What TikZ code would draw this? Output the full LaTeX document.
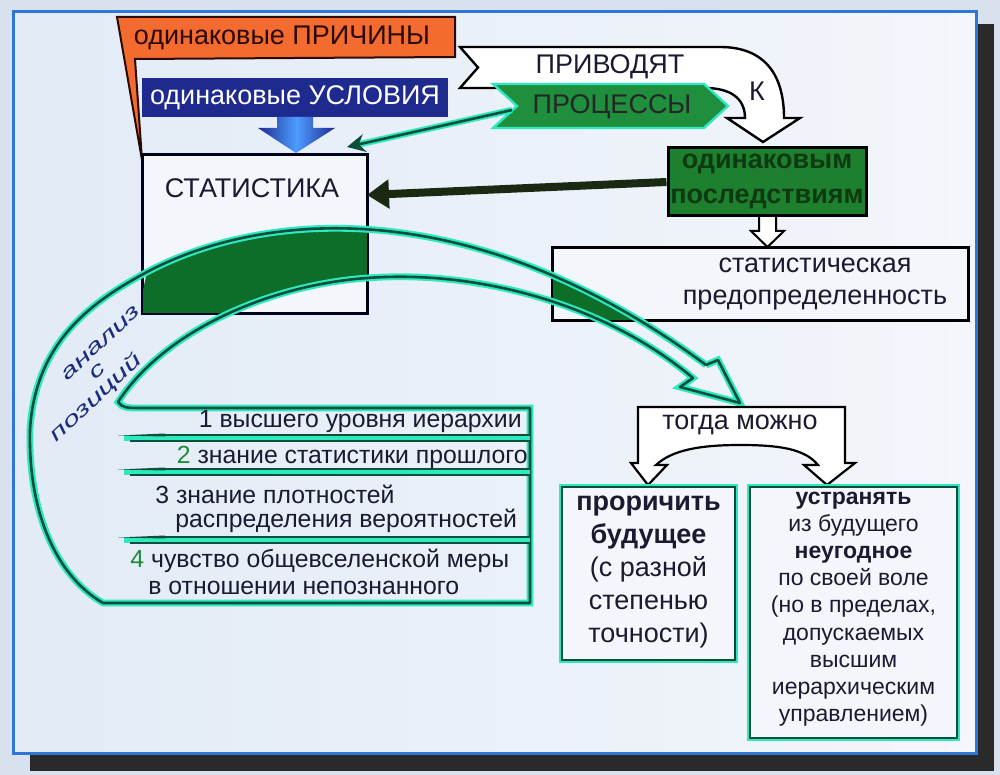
\documentclass[tikz,border=0pt]{standalone}
\usepackage{fontspec}
\usepackage{graphicx}
\setmainfont{Liberation Sans}
\usetikzlibrary{calc,arrows.meta}

\definecolor{outside}{HTML}{D8E2EE}
\definecolor{shadowc}{HTML}{2A2A2A}
\definecolor{panelL}{HTML}{E2EBF6}
\definecolor{panelR}{HTML}{F3F6FB}
\definecolor{framebl}{HTML}{2F77D6}
\definecolor{orng}{HTML}{F36B2E}
\definecolor{causetxt}{HTML}{2B0A05}
\definecolor{navy}{HTML}{1F2A8F}
\definecolor{procgr}{HTML}{1F8E3D}
\definecolor{consgr}{HTML}{1E7F2E}
\definecolor{constxt}{HTML}{0E3A12}
\definecolor{bandgr}{HTML}{0D6E2A}
\definecolor{linegr}{HTML}{0A4F3A}
\definecolor{glowc}{HTML}{2EE8C0}
\definecolor{thickarr}{HTML}{1A2A12}
\definecolor{inkc}{HTML}{1A1A30}
\definecolor{labelbl}{HTML}{1C2C7C}
\definecolor{numgr}{HTML}{1E8B3A}

% band of the big green arrow (closed, for the clipped fills)
\def\bandfill{(147,272) .. controls (260,212) and (470,190) .. (706,365) -- (718,360) -- (740,403) -- (680,387) -- (693,378) .. controls (600,300) and (470,270) .. (367,278) .. controls (270,285) and (165,330) .. (118,402) -- cycle}
\newcommand\widetxt[1]{\scalebox{1.55}[1]{#1}}

\tikzset{
  txt/.style={font=\fontsize{13.5}{16}\selectfont, text=inkc, inner sep=0pt},
  listtxt/.style={font=\fontsize{12.4}{13.6}\selectfont, text=inkc, inner sep=0pt},
  analysistxt/.style={font=\fontsize{10}{9.3}\selectfont\itshape, text=labelbl, inner sep=0pt, align=center},
  glowline/.style={draw=linegr, line width=1.3pt, preaction={draw=glowc, line width=3.4pt}},
  greenbox/.style={glowline, fill=panelR, inner sep=0pt},
  plainbox/.style={draw=black, line width=1.1pt, fill=panelR, inner sep=0pt},
}

\begin{document}
\begin{tikzpicture}[x=0.5pt, y=-0.5pt]
  \useasboundingbox (0,0) rectangle (1000,775);

  %%%%% frame %%%%%
  \fill[outside] (0,0) rectangle (1000,775);
  \fill[shadowc] (30,24) rectangle (994,771);
  \shade[left color=panelL, right color=panelR] (13,12) rectangle (976,753);
  \draw[framebl, line width=1.5pt] (13,12) rectangle (976,753);

  %%%%% causes and conditions %%%%%
  \filldraw[fill=orng, draw=causetxt, line width=1pt] (117,17) -- (455,17) -- (455,57) -- (135,59) -- (142,160) -- cycle;
  \node[txt, text=causetxt] (causes) at (282,38) {одинаковые ПРИЧИНЫ};

  \filldraw[fill=white, draw=black, line width=1.2pt] (460,47) -- (720,47) .. controls (765,47) and (784,75) .. (784,118) -- (800,118) -- (763,142) -- (727,118) -- (745,118) .. controls (745,98) and (730,88) .. (705,88) -- (460,88) -- (478,67.5) -- cycle;
  \node[txt] (leads) at (610,67) {ПРИВОДЯТ};
  \node[txt] (k) at (757,91) {К};

  \filldraw[fill=procgr, draw=glowc, line width=1.2pt] (493,84) -- (704,84) -- (728,106) -- (704,128) -- (493,128) -- (517,106) -- cycle;
  \node[txt, text=black!85] (proc) at (612,107) {ПРОЦЕССЫ};

  \node[fill=navy, minimum width=153pt, minimum height=19.5pt, inner sep=0pt, text=white, font=\fontsize{13.5}{16}\selectfont] (cond) at (295,97.5) {одинаковые УСЛОВИЯ};
  \shade[left color=navy, right color=navy, middle color=blue!55!cyan!70!white] (277,117) -- (313,117) -- (313,128) -- (335,128) -- (296,153) -- (258,128) -- (277,128) -- cycle;

  %%%%% statistics %%%%%
  \node[plainbox, minimum width=112pt, minimum height=79pt] (statbox) at (255,234) {};
  \node[txt] (stat) at (252,188) {СТАТИСТИКА};

  \node[fill=consgr, draw=black, line width=1.5pt, minimum width=99pt, minimum height=34pt, inner sep=0pt] (cons) at (767,182) {};
  \node[txt, text=constxt, font=\fontsize{13.5}{16}\selectfont\bfseries] (cons1) at (767,164) {одинаковым};
  \node[txt, text=constxt, font=\fontsize{13.5}{16}\selectfont\bfseries] (cons2) at (767,199) {последствиям};

  \filldraw[fill=white, draw=black, line width=1pt] (759,216) -- (776,216) -- (776,231) -- (784,231) -- (767.5,247) -- (751,231) -- (759,231) -- cycle;
  \node[plainbox, minimum width=207.5pt, minimum height=36pt] (pred) at (760.5,284) {};

  %%%%% green band %%%%%
  \begin{scope}
    \clip (statbox.north west) rectangle (statbox.south east);
    \fill[bandgr] \bandfill;
  \end{scope}
  \begin{scope}
    \clip (pred.north west) rectangle (pred.south east);
    \fill[bandgr] \bandfill;
  \end{scope}
  \draw[black!85!blue, line width=1.1pt] (statbox.north west) rectangle (statbox.south east);
  \draw[black, line width=1.1pt] (pred.north west) rectangle (pred.south east);

  \node[txt] (pred1) at (815,265) {статистическая};
  \node[txt] (pred2) at (815,300) {предопределенность};

  \draw[glowline, line join=round] (706,365) -- (718,360) -- (740,403) -- (680,387) -- (693,378)
    .. controls (600,300) and (470,270) .. (367,278)
    .. controls (270,285) and (165,330) .. (118,402)
    .. controls (122,408) and (128,408) .. (140,408) -- (530,408) -- (530,603) -- (103,603)
    .. controls (55,575) and (28,510) .. (30,430)
    .. controls (35,340) and (95,300) .. (147,272)
    .. controls (260,212) and (470,190) .. (706,365);

  % positions list
  \foreach \y in {438,472,540}{
    \draw[glowc, line width=2.6pt] (124,\y) -- (530,\y);
    \fill[linegr] (118,\y-2.5) -- (165,\y-4.5) -- (165,\y-1.5) -- cycle;
    \draw[linegr, line width=1.1pt] (150,\y-3) -- (530,\y-3);
    \draw[linegr, line width=1.1pt] (130,\y+3) -- (530,\y+3);
  }
  \node[listtxt, anchor=east] (pos1) at (522,422) {1 высшего уровня иерархии};
  \node[listtxt, anchor=east] (pos2) at (528,457) {\textcolor{numgr}{2} знание статистики прошлого};
  \node[listtxt, anchor=west] (pos3a) at (155,494) {3 знание плотностей};
  \node[listtxt, anchor=west] (pos3b) at (175,521) {распределения вероятностей};
  \node[listtxt, anchor=west] (pos4a) at (130,561) {\textcolor{numgr}{4} чувство общевселенской меры};
  \node[listtxt, anchor=west] (pos4b) at (148,588) {в отношении непознанного};

  \node[analysistxt, rotate=43] (analysis) at (85,386) {\hspace*{41pt}\widetxt{анализ}\\\hspace*{19pt}\widetxt{с}\\\widetxt{позиций}};

  %%%%% connectors %%%%%
  \coordinate (thk) at (367,195);
  \coordinate (procend) at (347,147);
  \coordinate (procstart) at (512,110);
  \draw[thickarr, line width=4pt, -{Triangle[length=11pt,width=14pt]}] (cons.west) -- (thk);
  \draw[glowc, line width=3.2pt, shorten >=6pt] (procstart) -- (procend);
  \draw[linegr, line width=1.3pt, -{Stealth[length=9pt,width=9pt]}] (procstart) -- (procend);

  %%%%% then possible %%%%%
  \filldraw[fill=white, draw=black, line width=1.1pt] (638,407) -- (845,407) -- (845,463) -- (855,463) -- (827,485) -- (804,465) -- (818,465)
    .. controls (805,449) and (780,445) .. (740,445)
    .. controls (700,445) and (672,450) .. (656,465) -- (667,465) -- (648,485) -- (631,463) -- (638,463) -- cycle;
  \node[txt] (then) at (740,425) {тогда можно};

  \node[greenbox, minimum width=86.5pt, minimum height=86.5pt] (foretell) at (648.5,573.5) {};
  \node[txt, align=center, font=\fontsize{13.5}{16.5}\selectfont] (foretxt) at (648.5,572) {\textbf{проричить}\\\textbf{будущее}\\(с разной\\степенью\\точности)};

  \node[greenbox, minimum width=103.5pt, minimum height=125.5pt] (remove) at (853.5,612.5) {};
  \node[txt, align=center, font=\fontsize{11.5}{13.6}\selectfont] (removetxt) at (853.5,609) {\textbf{устранять}\\из будущего\\\textbf{неугодное}\\по своей воле\\(но в пределах,\\допускаемых\\высшим\\иерархическим\\управлением)};
\end{tikzpicture}
\end{document}
